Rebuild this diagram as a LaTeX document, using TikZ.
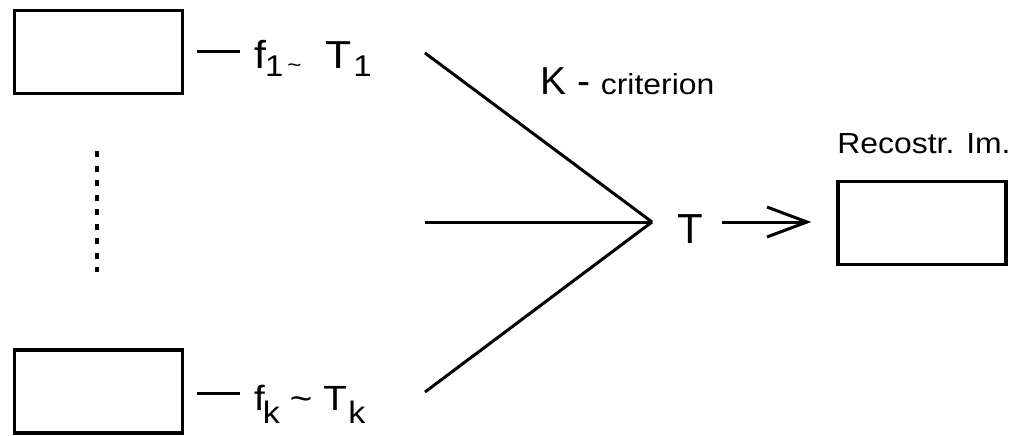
\documentclass[tikz,border=0pt]{standalone}
\usepackage{fontspec}
\setmainfont{Liberation Sans}
\newfontfamily\wideb[FakeStretch=1.1]{Liberation Sans}
\newcommand{\fs}[1]{\fontsize{#1}{#1}\selectfont}
\begin{document}
\begin{tikzpicture}[x=1pt,y=-1pt,
  box/.style={draw, line width=3.5pt, minimum width=168pt, minimum height=83pt, inner sep=0pt},
  ln/.style={line width=3pt},
  lbl/.style={anchor=base west, inner sep=0pt}]
\useasboundingbox (0,0) rectangle (1017,436);
% boxes
\node[box] (b1) at (98.5,52) {};
\node[box] (bk) at (98.5,391.5) {};
\node[box] (br) at (922,223) {};
% labels
\node[lbl, font=\wideb\fs{39}] (l1) at (254,68)
  {f\hspace{-1pt}\raisebox{-9pt}{\fs{30}1}\hspace{4pt}\raisebox{-4pt}{\fs{22}\textasciitilde}\hspace{24pt}T\hspace{1.5pt}\raisebox{-9pt}{\fs{30}1}};
\node[lbl, font=\wideb\fs{35}] (lk) at (254,410)
  {f\hspace{-2pt}\raisebox{-13pt}{\fs{31}k}\hspace{10pt}\textasciitilde\hspace{11pt}T\hspace{1.5pt}\raisebox{-13pt}{\fs{31}k}};
\node[lbl] (kc) at (540,95) {\fs{39}K - {\wideb\fs{29}criterion}};
\node[anchor=base, inner sep=0pt, font=\wideb\fs{29}] (rt) at (924,153) {Recostr. Im.};
\node[anchor=base, inner sep=0pt, font=\fs{42}] (t) at (690,243) {T};
% dash connectors
\coordinate (d1a) at (197,52); \coordinate (d1b) at (240,52);
\coordinate (dka) at (197,393); \coordinate (dkb) at (240,393);
\draw[ln] (d1a) -- (d1b);
\draw[ln] (dka) -- (dkb);
% dotted line
\coordinate (da) at (97,151); \coordinate (db) at (97,272);
\draw[line width=3.2pt, dash pattern=on 6pt off 8.5pt] (da) -- (db);
% converging lines
\coordinate (c) at (652,222);
\coordinate (s1) at (425,53);
\coordinate (s2) at (425,222);
\coordinate (s3) at (425,392);
\draw[ln] (s1) -- (c);
\draw[ln] (s2) -- (c);
\draw[ln] (s3) -- (c);
% arrow
\coordinate (at) at (722,222);
\coordinate (ah) at (807,222);
\draw[ln] (at) -- (ah);
\draw[ln, line join=miter] (ah) ++(-40,-15) -- (ah) -- ++(-40,15);
\end{tikzpicture}
\end{document}
